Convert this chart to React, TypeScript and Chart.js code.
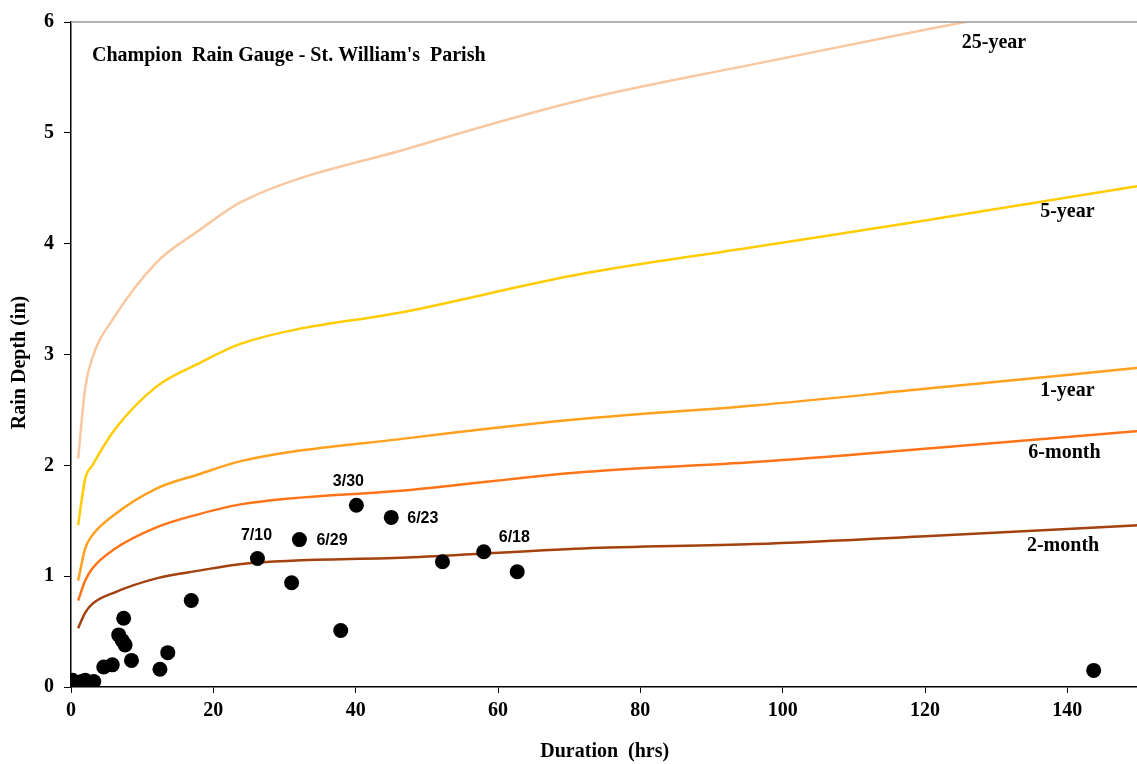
import React, { useEffect, useRef } from "react";
import { Chart, registerables } from "chart.js";

Chart.register(...registerables);

// Storm-frequency curves (duration in hrs, depth in inches)
const durations = [1, 2, 3, 6, 12, 18, 24, 48, 72, 96, 120, 150];
const depth25Year = [2.06, 2.7, 2.97, 3.33, 3.83, 4.12, 4.38, 4.87, 5.3, 5.62, 5.93, 6.3];
const depth5Year = [1.46, 1.88, 2.0, 2.31, 2.71, 2.92, 3.1, 3.4, 3.73, 3.97, 4.21, 4.52];
const depth1Year = [0.96, 1.25, 1.37, 1.55, 1.79, 1.92, 2.04, 2.25, 2.42, 2.54, 2.69, 2.88];
const depth6Month = [0.78, 0.96, 1.07, 1.24, 1.44, 1.56, 1.65, 1.78, 1.94, 2.03, 2.15, 2.31];
const depth2Month = [0.53, 0.67, 0.75, 0.85, 0.98, 1.05, 1.11, 1.17, 1.25, 1.29, 1.36, 1.46];

const curveNames = ["25-year", "5-year", "1-year", "6-month", "2-month"];
const curveLabelDuration = [129.7, 140, 140, 139.6, 139.4];
const curveLabelDepth = [5.81, 4.29, 2.67, 2.11, 1.27];

// Observed rain events
const eventDurations = [
  0.2, 0.8, 1.5, 2.0, 2.4, 3.2, 4.6, 5.8, 6.7, 7.2, 7.6, 7.4, 8.5, 12.5, 13.6, 16.9,
  26.2, 31.0, 32.1, 37.9, 40.1, 45.0, 52.2, 58.0, 62.7, 143.7,
];
const eventDepths = [
  0.06, 0.01, 0.05, 0.06, 0.01, 0.05, 0.18, 0.2, 0.47, 0.42, 0.38, 0.62, 0.24, 0.16, 0.31, 0.78,
  1.16, 0.94, 1.33, 0.51, 1.64, 1.53, 1.13, 1.22, 1.04, 0.15,
];

const eventNames = ["3/30", "7/10", "6/29", "6/23", "6/18"];
const eventNameDurations = [40.1, 26.2, 32.1, 45.0, 58.0];
const eventNameDepths = [1.64, 1.16, 1.33, 1.53, 1.22];

const xTicks = [0, 20, 40, 60, 80, 100, 120, 140];

const chartTitle = "Champion  Rain Gauge - St. William's  Parish";
const xTitle = "Duration  (hrs)";
const yTitle = "Rain Depth (in)";

const curveColors = ["#F9C8A0", "#FFCC00", "#FFA01E", "#FF7418", "#A3420F"];
const curveSeries = [depth25Year, depth5Year, depth1Year, depth6Month, depth2Month];

// label offsets in px relative to the event point: [dx, dy, align]
const eventLabelOffsets: [number, number, CanvasTextAlign][] = [
  [-8, -24, "center"],
  [-1, -23, "center"],
  [17, 1, "left"],
  [16, 1, "left"],
  [15, -14, "left"],
];

const SERIF = '"Liberation Serif", "Times New Roman", serif';

const textPlugin = {
  id: "textPlugin",
  afterDraw(chart: any) {
    const { ctx, chartArea, scales } = chart;
    const xs = scales.x;
    const ys = scales.y;
    ctx.save();
    // top border
    ctx.strokeStyle = "#9a9a9a";
    ctx.lineWidth = 1.5;
    ctx.beginPath();
    ctx.moveTo(chartArea.left, chartArea.top);
    ctx.lineTo(chartArea.right, chartArea.top);
    ctx.stroke();

    ctx.fillStyle = "#000";
    ctx.textBaseline = "middle";
    ctx.font = `bold 20px ${SERIF}`;
    ctx.textAlign = "left";
    ctx.fillText(chartTitle, chartArea.left + 21, chartArea.top + 34);

    // y axis title
    ctx.save();
    ctx.translate(20, (chartArea.top + chartArea.bottom) / 2 + 8);
    ctx.rotate(-Math.PI / 2);
    ctx.textAlign = "center";
    ctx.fillText(yTitle, 0, 0);
    ctx.restore();

    ctx.textAlign = "center";
    curveNames.forEach((n, i) => {
      ctx.fillText(n, xs.getPixelForValue(curveLabelDuration[i]), ys.getPixelForValue(curveLabelDepth[i]));
    });

    ctx.font = 'bold 16px "Liberation Sans", Arial, sans-serif';
    eventNames.forEach((n, i) => {
      const [dx, dy, al] = eventLabelOffsets[i];
      ctx.textAlign = al;
      ctx.fillText(
        n,
        xs.getPixelForValue(eventNameDurations[i]) + dx,
        ys.getPixelForValue(eventNameDepths[i]) + dy
      );
    });
    ctx.restore();
  },
};

export default function App() {
  const ref = useRef<HTMLCanvasElement>(null);

  useEffect(() => {
    if (!ref.current) return;
    const lineSets = curveSeries.map((s, i) => ({
      type: "line" as const,
      label: curveNames[i],
      data: durations.map((d, j) => ({ x: d, y: s[j] })),
      borderColor: curveColors[i],
      backgroundColor: curveColors[i],
      borderWidth: 2.5,
      pointRadius: 0,
      cubicInterpolationMode: "monotone" as const,
      fill: false,
      order: 2,
    }));
    const scatterSet = {
      type: "scatter" as const,
      label: "Events",
      data: eventDurations.map((d, i) => ({ x: d, y: eventDepths[i] })),
      backgroundColor: "#000",
      borderColor: "#000",
      pointRadius: 7.5,
      borderWidth: 0,
      order: 1,
    };
    const tickFont = { family: SERIF, size: 20, weight: "bold" as const };
    const chart = new Chart(ref.current, {
      type: "scatter",
      data: { datasets: [...lineSets, scatterSet] as any },
      options: {
        responsive: false,
        animation: false,
        devicePixelRatio: 1,
        layout: { padding: { top: 18, right: 0, bottom: 0, left: 0 } },
        plugins: { legend: { display: false }, tooltip: { enabled: false } },
        scales: {
          x: {
            type: "linear",
            min: 0,
            max: 150,
            afterBuildTicks: (s: any) => {
              s.ticks = xTicks.map((v) => ({ value: v }));
            },
            afterFit: (s: any) => {
              s.height = 77;
            },
            ticks: { color: "#000", font: tickFont, padding: 6, maxRotation: 0, autoSkip: false },
            grid: { drawOnChartArea: false, drawTicks: true, tickLength: 6, color: "#000" },
            border: { color: "#000", width: 1.5 },
            title: {
              display: true,
              text: xTitle,
              color: "#000",
              font: tickFont,
              padding: { top: 0, bottom: 0 },
            },
          },
          y: {
            type: "linear",
            min: 0,
            max: 6,
            afterFit: (s: any) => {
              s.width = 71;
            },
            ticks: { stepSize: 1, color: "#000", font: tickFont, padding: 10 },
            grid: { drawOnChartArea: false, drawTicks: true, tickLength: 7, color: "#000" },
            border: { color: "#000", width: 1.5 },
          },
        },
      },
      plugins: [textPlugin],
    });
    return () => chart.destroy();
  }, []);

  return (
    <canvas
      ref={ref}
      width={1146}
      height={764}
      style={{ position: "fixed", left: 0, top: 0, width: 1146, height: 764, background: "#fff" }}
    />
  );
}
